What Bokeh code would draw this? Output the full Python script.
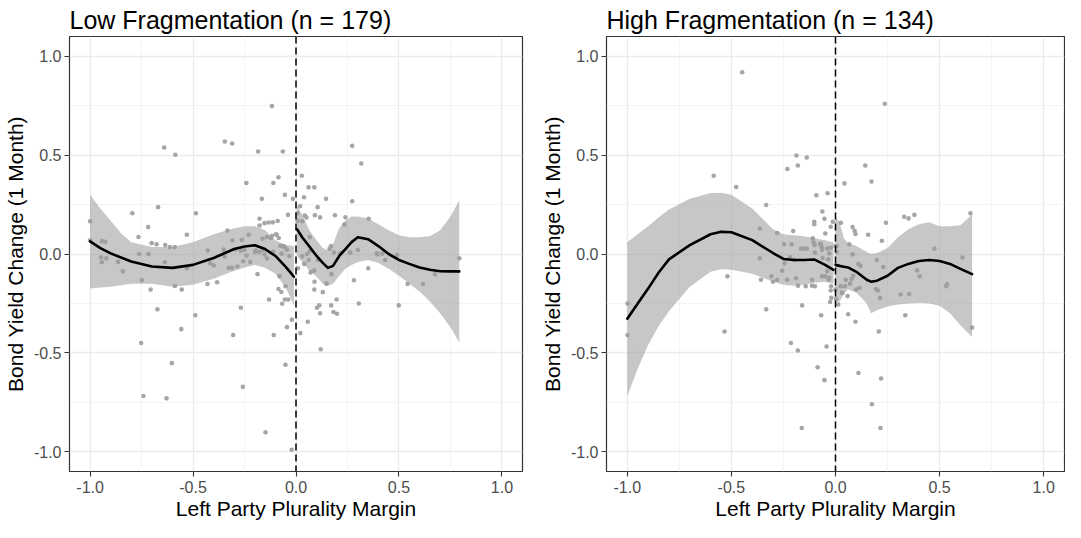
from bokeh.plotting import figure
from bokeh.models import FixedTicker, Span, CustomJSTickFormatter
from bokeh.layouts import row
from bokeh.embed import file_html
from bokeh.resources import INLINE

FONT = "Liberation Sans"

# ---------------- data ----------------
TICKS = [-1.0, -0.5, 0.0, 0.5, 1.0]
TICK_LABELS = ["-1.0", "-0.5", "0.0", "0.5", "1.0"]
MINOR_TICKS = [-0.75, -0.25, 0.25, 0.75]

TITLES = ["Low Fragmentation (n = 179)", "High Fragmentation (n = 134)"]
X_LABEL = "Left Party Plurality Margin"
Y_LABEL = "Bond Yield Change (1 Month)"

# Low fragmentation points
low_x = [
    -0.117, -0.346, -0.310, -0.640, -0.586, -0.184, -0.064, 0.273, 0.317, 0.028,
    -0.241, -0.110, -0.085, 0.061, 0.089, -0.166, -0.054, -0.015, 0.039, 0.146,
    0.273, -1.0, -0.795, -0.670, -0.486, 0.020, 0.105, 0.007, 0.043, 0.051,
    0.092, 0.117, 0.189, 0.240, 0.235, 0.353, -0.039, -0.177, -0.153, -0.133,
    -0.177, 0.007, 0.031, -0.718, -0.765, -0.530, -0.333, -0.230, -0.263, -0.163,
    -0.141, -0.122, -0.094, -0.084, 0.067, -0.701, -0.677, -1.0, -0.943, -0.926,
    -0.635, -0.612, -0.589, -0.429, -0.351, -0.076, -0.056, -0.044, -0.294, -0.268,
    -0.195, -0.179, -0.163, 0.163, 0.184, 0.215, 0.261, 0.396, 0.419, 0.067,
    -0.716, -0.762,
    -0.943, -0.921, -0.947, -0.864, -0.841, -0.749, -0.706, -0.637, -0.555, -0.588,
    -0.529, -0.430, -0.383, -0.417, -0.399, -0.346, -0.327, -0.310, -0.284, -0.256,
    -0.222, -0.240, -0.187, -0.141, -0.080, -0.085, -0.071, -0.051, -0.054, -0.038,
    -0.131, -0.067, -0.268, -0.673, -0.489, -0.020, -0.044, -0.557, -0.305, -0.108,
    0.021, -0.752, 0.120, -0.603, -0.051, -0.258, -0.741, -0.629, -0.148, -0.021,
    0.010, 0.071, 0.089, 0.062, 0.107, 0.054, 0.089, 0.130, 0.148, 0.172,
    0.102, 0.113, 0.117, 0.171, 0.197, 0.182, 0.199, 0.057, 0.281, 0.305,
    0.351, 0.392, 0.433, 0.499, 0.542, 0.617, 0.675, 0.793, 0.264, 0.491,
    -0.113, -0.089, -0.309, -0.250, -0.200, -0.116, -0.097, -0.153, -0.110, -0.070,
    -0.060, -0.032, 0.030, 0.040, 0.090, 0.170, 0.300,
]
low_y = [
    0.748, 0.569, 0.559, 0.539, 0.502, 0.518, 0.518, 0.547, 0.458, 0.396,
    0.359, 0.359, 0.388, 0.337, 0.337, 0.279, 0.299, 0.279, 0.287, 0.279,
    0.267, 0.166, 0.206, 0.237, 0.206, 0.242, 0.237, 0.206, 0.195, 0.185,
    0.196, 0.185, 0.196, 0.186, 0.149, 0.178, 0.198, 0.178, 0.156, 0.159,
    0.144, 0.168, 0.166, 0.136, 0.086, 0.097, 0.119, 0.097, 0.072, 0.077,
    0.086, 0.081, 0.097, 0.081, 0.086, 0.055, 0.049, 0.069, 0.065, 0.062,
    0.045, 0.035, 0.035, 0.018, 0.022, 0.042, 0.034, 0.022, 0.023, 0.017,
    0.017, 0.010, 0.020, 0.027, 0.007, 0.005, 0.007, -0.002, 0.002, 0.015,
    0.0, 0.0,
    -0.042, -0.022, -0.018, -0.040, -0.088, -0.132, -0.180, -0.042, -0.180, -0.162,
    -0.072, -0.152, -0.143, -0.047, -0.058, -0.013, -0.070, -0.070, -0.063, -0.037,
    -0.040, -0.008, -0.102, -0.023, -0.113, -0.177, -0.192, -0.163, -0.230, -0.230,
    -0.230, -0.252, -0.272, -0.280, -0.310, -0.332, -0.370, -0.380, -0.410, -0.410,
    -0.400, -0.450, -0.482, -0.552, -0.560, -0.672, -0.718, -0.730, -0.902, -0.990,
    -0.072, -0.093, -0.083, -0.030, -0.030, 0.0, -0.180, -0.193, -0.150, -0.102,
    -0.272, -0.260, -0.300, -0.260, -0.230, -0.293, -0.302, -0.343, -0.133, -0.250,
    -0.072, 0.003, -0.030, -0.260, -0.152, -0.152, -0.102, -0.022, 0.008, -0.005,
    0.160, 0.167, 0.068, 0.020, 0.010, 0.092, 0.100, -0.003, 0.012, 0.002,
    0.040, -0.010, -0.012, -0.050, -0.140, 0.040, 0.020,
]

# High fragmentation points
high_x = [
    -0.448, 0.237, -0.188, -0.138, -0.231, -0.181, 0.143, -0.585, -0.477, 0.043,
    0.173, -0.092, -0.038, -0.333, -0.063, -0.053, -0.102, -0.102, -0.023, -0.013,
    0.026, 0.330, 0.351, 0.379, 0.242, 0.648, 0.082, 0.092, 0.096, 0.157,
    0.223, -0.364, -0.280, -0.203, -0.049, -0.109, -0.106, -0.074, -0.066, -0.247,
    -0.211, -0.165, -0.148, -0.138, -0.023, 0.005, 0.066, 0.082, 0.475, -0.099,
    -0.999, -0.999, -0.519, -0.533, -0.364, -0.358, -0.308, -0.280, -0.256, -0.333,
    -0.219, -0.198, -0.190, -0.143, -0.160, -0.214, -0.181, -0.162, -0.112, -0.099,
    -0.049, -0.033, -0.021, -0.069, -0.043, -0.086, -0.053, -0.023, -0.020, -0.026,
    0.003, 0.013, 0.025, 0.033, 0.049, 0.046, 0.077, 0.061, 0.096, 0.058,
    0.099, 0.115, 0.110, 0.175, 0.208, 0.219, 0.216, 0.195, 0.203, 0.214,
    0.198, 0.313, 0.354, 0.335, 0.392, 0.404, 0.536, 0.531, 0.610, 0.656,
    -0.300, -0.232, -0.180, -0.113, -0.065, -0.040, -0.245, -0.100, -0.070, -0.065,
    -0.040, -0.030, -0.035, -0.062, 0.000, 0.006, -0.030, 0.000, 0.031, 0.070,
    0.085, 0.110, 0.230, 0.120,
]
high_y = [
    0.919, 0.760, 0.498, 0.488, 0.430, 0.448, 0.448, 0.396, 0.339, 0.357,
    0.367, 0.297, 0.307, 0.248, 0.215, 0.178, 0.163, 0.151, 0.138, 0.163,
    0.158, 0.188, 0.180, 0.198, 0.158, 0.206, 0.136, 0.117, 0.101, 0.097,
    0.067, 0.129, 0.106, 0.116, 0.104, 0.079, 0.059, 0.050, 0.034, 0.049,
    0.049, 0.027, 0.027, 0.027, 0.032, 0.039, 0.049, -0.002, 0.027, 0.008,
    -0.250, -0.410, -0.113, -0.392, -0.022, -0.130, -0.113, -0.130, -0.085, -0.280,
    -0.017, -0.030, -0.123, -0.163, -0.260, -0.450, -0.488, -0.880, -0.130, -0.163,
    -0.113, -0.130, -0.163, -0.310, -0.468, -0.573, -0.638, -0.185, -0.222, -0.243,
    -0.227, -0.255, -0.163, -0.197, -0.130, -0.163, -0.127, -0.305, -0.343, -0.213,
    -0.180, -0.172, -0.602, -0.760, -0.392, -0.630, -0.880, -0.177, -0.185, -0.222,
    -0.030, -0.205, -0.202, -0.310, -0.083, -0.113, -0.152, -0.163, -0.018, -0.372,
    -0.140, -0.130, -0.160, -0.160, -0.113, -0.087, -0.047, 0.045, 0.052, 0.020,
    0.028, 0.003, -0.027, -0.020, 0.040, 0.010, -0.120, -0.180, -0.195, -0.150,
    -0.110, -0.050, -0.066, -0.060,
]

# Local smooth (fit + 95% band), separate on each side of the cut-off
low_left_x = [-1.0, -0.95, -0.9, -0.85, -0.8, -0.7, -0.6, -0.5, -0.4, -0.3, -0.25, -0.2, -0.15, -0.1, -0.05, -0.01]
low_left_fit = [0.064, 0.030, 0.003, -0.018, -0.038, -0.063, -0.070, -0.055, -0.020, 0.025, 0.038, 0.044, 0.025, -0.010, -0.065, -0.115]
low_left_hi = [0.300, 0.230, 0.168, 0.105, 0.060, 0.035, 0.035, 0.060, 0.100, 0.130, 0.140, 0.140, 0.120, 0.070, 0.045, 0.040]
low_left_lo = [-0.175, -0.170, -0.165, -0.158, -0.150, -0.150, -0.165, -0.155, -0.125, -0.085, -0.068, -0.055, -0.070, -0.100, -0.170, -0.260]

low_right_x = [0.005, 0.03, 0.065, 0.1, 0.13, 0.155, 0.18, 0.21, 0.24, 0.27, 0.3, 0.35, 0.4, 0.45, 0.5, 0.55, 0.6, 0.65, 0.7, 0.75, 0.793]
low_right_fit = [0.125, 0.085, 0.038, -0.010, -0.045, -0.070, -0.060, -0.010, 0.025, 0.060, 0.085, 0.075, 0.040, 0.000, -0.030, -0.050, -0.068, -0.080, -0.087, -0.088, -0.088]
low_right_hi = [0.245, 0.200, 0.120, 0.070, 0.030, 0.020, 0.050, 0.130, 0.170, 0.190, 0.190, 0.180, 0.150, 0.120, 0.095, 0.085, 0.085, 0.090, 0.120, 0.190, 0.270]
low_right_lo = [-0.010, -0.040, -0.085, -0.115, -0.150, -0.160, -0.150, -0.110, -0.075, -0.055, -0.040, -0.030, -0.045, -0.075, -0.110, -0.150, -0.190, -0.240, -0.300, -0.370, -0.447]

high_left_x = [-1.0, -0.95, -0.9, -0.85, -0.8, -0.7, -0.6, -0.55, -0.5, -0.4, -0.3, -0.25, -0.2, -0.15, -0.1, -0.05, -0.01]
high_left_fit = [-0.327, -0.250, -0.175, -0.095, -0.027, 0.045, 0.100, 0.112, 0.110, 0.070, 0.005, -0.025, -0.030, -0.030, -0.028, -0.055, -0.080]
high_left_hi = [0.060, 0.100, 0.140, 0.185, 0.225, 0.280, 0.308, 0.310, 0.300, 0.230, 0.125, 0.100, 0.095, 0.090, 0.080, 0.070, 0.060]
high_left_lo = [-0.720, -0.580, -0.460, -0.365, -0.290, -0.165, -0.090, -0.077, -0.080, -0.100, -0.140, -0.155, -0.160, -0.155, -0.145, -0.140, -0.150]

high_right_x = [0.0, 0.02, 0.04, 0.06, 0.1, 0.15, 0.17, 0.2, 0.25, 0.3, 0.35, 0.4, 0.45, 0.5, 0.55, 0.6, 0.656]
high_right_fit = [-0.055, -0.060, -0.064, -0.068, -0.090, -0.130, -0.140, -0.135, -0.110, -0.070, -0.050, -0.035, -0.030, -0.035, -0.050, -0.075, -0.102]
high_right_hi = [0.190, 0.160, 0.080, 0.055, 0.040, 0.010, 0.000, 0.005, 0.030, 0.085, 0.125, 0.150, 0.160, 0.140, 0.140, 0.145, 0.200]
high_right_lo = [-0.240, -0.240, -0.200, -0.180, -0.195, -0.250, -0.300, -0.285, -0.265, -0.255, -0.250, -0.248, -0.250, -0.262, -0.300, -0.360, -0.420]

CUTOFF = 0.0


def tick_formatter():
    return CustomJSTickFormatter(
        args=dict(tick_values=TICKS, tick_texts=TICK_LABELS),
        code="""
        for (let i = 0; i < tick_values.length; i++) {
            if (Math.abs(tick_values[i] - tick) < 1e-9) { return tick_texts[i]; }
        }
        return "";
        """,
    )


def make_panel(title, px, py, segments, border_left, border_right):
    frame_w = 458
    p = figure(
        width=border_left + frame_w + border_right,
        height=522,
        x_range=(-1.1, 1.1),
        y_range=(-1.1, 1.1),
        output_backend="svg",
        toolbar_location=None,
        min_border_left=border_left,
        min_border_right=border_right,
        min_border_top=36,
        min_border_bottom=50,
    )
    p.background_fill_color = "white"
    p.border_fill_color = "white"
    p.outline_line_color = "#333333"
    p.outline_line_width = 1.2
    p.outline_line_alpha = 1.0

    p.title.text = title
    p.title.text_font = FONT
    p.title.text_font_size = "25px"
    p.title.text_font_style = "normal"
    p.title.text_color = "black"
    p.title.align = "left"
    p.title.standoff = 6

    for axis, grid in ((p.xaxis[0], p.xgrid[0]), (p.yaxis[0], p.ygrid[0])):
        ticker = FixedTicker(ticks=TICKS, minor_ticks=MINOR_TICKS)
        axis.ticker = ticker
        grid.ticker = ticker
        axis.formatter = tick_formatter()
        axis.axis_line_color = None
        axis.major_tick_line_color = "#333333"
        axis.major_tick_line_width = 1.1
        axis.major_tick_out = 5
        axis.major_tick_in = 0
        axis.minor_tick_line_color = None
        axis.major_label_text_font = FONT
        axis.major_label_text_font_size = "16px"
        axis.major_label_text_color = "#4D4D4D"
        axis.axis_label_text_font = FONT
        axis.axis_label_text_font_size = "21px"
        axis.axis_label_text_font_style = "normal"
        axis.axis_label_text_color = "black"
        grid.grid_line_color = "#EBEBEB"
        grid.grid_line_width = 1.3
        grid.minor_grid_line_color = "#EFEFEF"
        grid.minor_grid_line_width = 0.7

    p.xaxis.axis_label = X_LABEL
    p.yaxis.axis_label = Y_LABEL
    p.xaxis.major_label_standoff = 4
    p.xaxis.axis_label_standoff = 1
    p.yaxis.major_label_standoff = 3
    p.yaxis.axis_label_standoff = 4

    p.scatter(px, py, size=4.6, fill_color="#a6a6a6", line_color=None)

    for sx, fit, lo, hi in segments:
        p.varea(x=sx, y1=lo, y2=hi, fill_color="#999999", fill_alpha=0.55)
    for sx, fit, lo, hi in segments:
        p.line(sx, fit, line_color="black", line_width=2.6, line_join="round", line_cap="round")

    p.add_layout(Span(location=CUTOFF, dimension="height", line_color="black",
                      line_width=1.5, line_dash="7 4"))
    return p


p1 = make_panel(
    TITLES[0], low_x, low_y,
    [(low_left_x, low_left_fit, low_left_lo, low_left_hi),
     (low_right_x, low_right_fit, low_right_lo, low_right_hi)],
    64, 12,
)
p2 = make_panel(
    TITLES[1], high_x, high_y,
    [(high_left_x, high_left_fit, high_left_lo, high_left_hi),
     (high_right_x, high_right_fit, high_right_lo, high_right_hi)],
    72, 1,
)

layout = row(p1, p2)
open("out.html", "w").write(file_html(layout, INLINE))
